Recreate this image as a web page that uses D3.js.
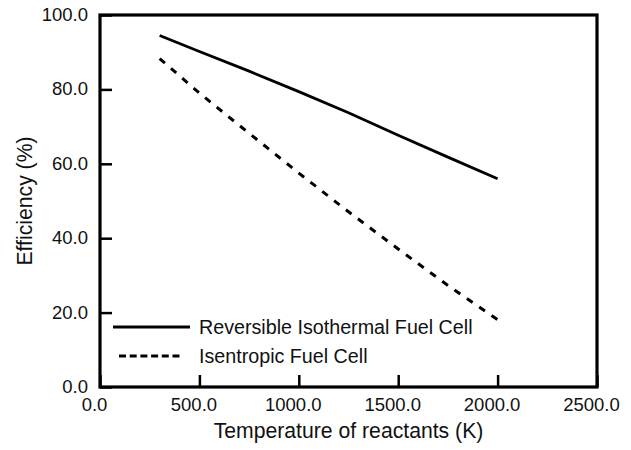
<!DOCTYPE html>
<html>
<head>
<meta charset="utf-8">
<script src="https://cdn.jsdelivr.net/npm/d3@7"></script>
<style>
  body { margin: 0; background: #fff; }
  text { font-family: "Liberation Sans", Arial, sans-serif; fill: #111; }
</style>
</head>
<body>
<script>
// Temperatures (K) where the curves were read
const temps = [300, 500, 750, 1000, 1250, 1500, 1750, 2000];

// Efficiency (%) for each curve
const reversible = [94.5, 90.2, 84.9, 79.4, 73.7, 67.7, 61.8, 56.0];
const isentropic = [88.3, 79.0, 68.2, 57.5, 47.1, 37.1, 27.3, 18.1];

// Tick labels on both axes
const xTicks = [0, 500, 1000, 1500, 2000, 2500];
const yTicks = [0, 20, 40, 60, 80, 100];

const seriesNames = ["Reversible Isothermal Fuel Cell", "Isentropic Fuel Cell"];

// Margin convention
const margin = { top: 15, right: 34, bottom: 63, left: 100 };
const outerWidth = 631;
const outerHeight = 450;
const width = outerWidth - margin.left - margin.right;
const height = outerHeight - margin.top - margin.bottom;

const svg = d3.select("body")
  .append("svg")
  .attr("width", outerWidth)
  .attr("height", outerHeight);

const g = svg.append("g")
  .attr("transform", `translate(${margin.left},${margin.top})`);

const x = d3.scaleLinear()
  .domain([0, 2500])
  .range([0, width]);

const y = d3.scaleLinear()
  .domain([0, 100])
  .range([height, 0]);

// Bottom axis, ticks pointing inward
const xAxis = g.append("g")
  .attr("transform", `translate(0,${height})`)
  .call(d3.axisBottom(x)
    .tickValues(xTicks)
    .tickFormat(d3.format(".1f"))
    .tickSizeInner(-12)
    .tickSizeOuter(0)
    .tickPadding(11));

xAxis.selectAll("text")
  .attr("dx", -6)
  .style("font-size", "18.5px");

// Left axis, ticks pointing inward
const yAxis = g.append("g")
  .call(d3.axisLeft(y)
    .tickValues(yTicks)
    .tickFormat(d3.format(".1f"))
    .tickSizeInner(-12)
    .tickSizeOuter(0)
    .tickPadding(12));

yAxis.selectAll("text")
  .attr("dy", "0.3em")
  .style("font-size", "18.5px");

g.selectAll(".domain").remove();
g.selectAll(".tick line")
  .attr("stroke", "#000")
  .attr("stroke-width", 2.5);

// Frame round the plot
g.append("rect")
  .attr("width", width)
  .attr("height", height)
  .attr("fill", "none")
  .attr("stroke", "#000")
  .attr("stroke-width", 3.2);

// Lines
const line = d3.line()
  .x((d, i) => x(temps[i]))
  .y(d => y(d));

g.append("path")
  .datum(reversible)
  .attr("d", line)
  .attr("fill", "none")
  .attr("stroke", "#000")
  .attr("stroke-width", 2.8);

g.append("path")
  .datum(isentropic)
  .attr("d", line)
  .attr("fill", "none")
  .attr("stroke", "#000")
  .attr("stroke-width", 3)
  .attr("stroke-dasharray", "7,8");

// Legend
const legend = g.append("g")
  .attr("transform", `translate(13,${height - 60})`);

seriesNames.forEach((name, i) => {
  const row = legend.append("g")
    .attr("transform", `translate(0,${i * 29})`);

  row.append("line")
    .attr("x1", i === 0 ? 0 : 6)
    .attr("x2", i === 0 ? 77 : 70)
    .attr("stroke", "#000")
    .attr("stroke-width", 2.8)
    .attr("stroke-dasharray", i === 0 ? null : "7,3.7");

  row.append("text")
    .attr("x", 86)
    .attr("dy", "0.36em")
    .style("font-size", "19.7px")
    .text(name);
});

// Axis titles
svg.append("text")
  .attr("x", margin.left + width / 2)
  .attr("y", 438)
  .attr("text-anchor", "middle")
  .style("font-size", "21.2px")
  .text("Temperature of reactants (K)");

svg.append("text")
  .attr("transform", `translate(32,${margin.top + height / 2}) rotate(-90)`)
  .attr("text-anchor", "middle")
  .style("font-size", "21.2px")
  .text("Efficiency (%)");
</script>
</body>
</html>
